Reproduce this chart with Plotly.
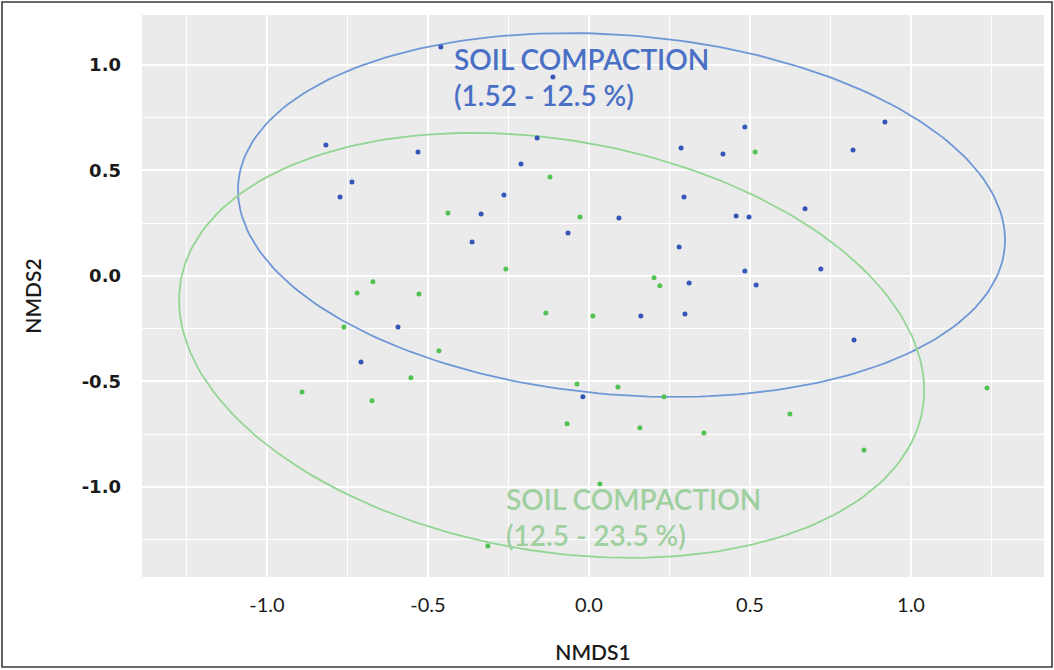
import numpy as np
import plotly.graph_objects as go

# NMDS scores, group 1: soil compaction 1.52 - 12.5 %
low_x = [-0.460, -0.112, -0.817, -0.531, -0.736, -0.773, -0.161, -0.211, -0.264,
         -0.335, -0.363, -0.065, 0.484, 0.286, 0.416, 0.820, 0.919, 0.295, 0.093,
         0.457, 0.497, 0.671, 0.280, 0.484, 0.720, 0.311, 0.519, -0.593, -0.708,
         -0.019, 0.161, 0.298, 0.823]
low_y = [1.085, 0.943, 0.621, 0.588, 0.445, 0.374, 0.654, 0.531, 0.384,
         0.294, 0.161, 0.204, 0.706, 0.607, 0.578, 0.597, 0.730, 0.374, 0.275,
         0.284, 0.280, 0.318, 0.137, 0.024, 0.033, -0.033, -0.043, -0.242, -0.408,
         -0.573, -0.190, -0.180, -0.303]

# NMDS scores, group 2: soil compaction 12.5 - 23.5 %
high_x = [-0.121, -0.438, -0.028, -0.258, -0.671, -0.720, -0.528, 0.516, 0.202,
          0.220, -0.134, -0.761, -0.466, -0.553, -0.891, -0.674, -0.037, -0.068,
          -0.314, 0.012, 0.090, 0.233, 0.158, 0.357, 0.624, 0.854, 1.236, 0.034]
high_y = [0.469, 0.299, 0.280, 0.033, -0.028, -0.081, -0.085, 0.588, -0.009,
          -0.047, -0.175, -0.242, -0.355, -0.483, -0.550, -0.592, -0.512, -0.701,
          -1.280, -0.190, -0.526, -0.573, -0.720, -0.744, -0.654, -0.825, -0.531, -0.986]

# Confidence ellipses: centre and covariance-like shape matrix [[sxx, sxy], [sxy, syy]]
low_center = [0.101, 0.289]
low_shape = [[1.4185, -0.1411], [-0.1411, 0.7440]]
high_center = [-0.116, -0.329]
high_shape = [[1.3383, -0.2467], [-0.2467, 1.0143]]

tick_vals = [-1.0, -0.5, 0.0, 0.5, 1.0]
tick_text = ["-1.0", "-0.5", "0.0", "0.5", "1.0"]

BLUE_PT = "#3556B8"
GREEN_PT = "#52C252"
BLUE_EL = "#6E97D6"
GREEN_EL = "#93D693"


def ellipse_path(center, shape, n=240):
    L = np.linalg.cholesky(np.array(shape))
    t = np.linspace(0, 2 * np.pi, n)
    circ = np.vstack([np.cos(t), np.sin(t)])
    pts = L @ circ
    return pts[0] + center[0], pts[1] + center[1]


fig = go.Figure()

ex, ey = ellipse_path(low_center, low_shape)
fig.add_trace(go.Scatter(x=ex, y=ey, mode="lines",
                         line=dict(color=BLUE_EL, width=1.8), hoverinfo="skip"))
ex, ey = ellipse_path(high_center, high_shape)
fig.add_trace(go.Scatter(x=ex, y=ey, mode="lines",
                         line=dict(color=GREEN_EL, width=1.8), hoverinfo="skip"))

fig.add_trace(go.Scatter(x=low_x, y=low_y, mode="markers",
                         marker=dict(color=BLUE_PT, size=5)))
fig.add_trace(go.Scatter(x=high_x, y=high_y, mode="markers",
                         marker=dict(color=GREEN_PT, size=5)))

fig.add_annotation(x=-0.425, y=1.12, xref="x", yref="y",
                   text="SOIL COMPACTION<br>(1.52 - 12.5 %)",
                   showarrow=False, xanchor="left", yanchor="top", align="left",
                   font=dict(family="Lato", size=28, color="#4A70C6", weight=600))
fig.add_annotation(x=-0.265, y=-0.965, xref="x", yref="y",
                   text="SOIL COMPACTION<br>(12.5 - 23.5 %)",
                   showarrow=False, xanchor="left", yanchor="top", align="left",
                   font=dict(family="Lato", size=28, color="#A0D0A0", weight=600))

# outer frame around the whole figure
W, H = 1054, 670
ml, mr, mt, mb = 142, 10, 15, 93
pw, ph = W - ml - mr, H - mt - mb
fig.add_shape(type="rect", xref="paper", yref="paper",
              x0=(2 - ml) / pw, x1=(W - 2 - ml) / pw,
              y0=(H - mb - (H - 3)) / ph, y1=(H - mb - 2) / ph,
              line=dict(color="#3a3a3a", width=1.6), fillcolor="rgba(0,0,0,0)",
              layer="above")

axis_common = dict(
    showgrid=True, gridcolor="white", gridwidth=1.6,
    zeroline=False, showline=False, ticks="",
    tickvals=tick_vals, ticktext=tick_text,
    minor=dict(dtick=0.25, tick0=0, showgrid=True, gridcolor="white", gridwidth=0.8),
)

fig.update_layout(
    width=W, height=H,
    margin=dict(l=ml, r=mr, t=mt, b=mb, pad=0),
    paper_bgcolor="white", plot_bgcolor="#EBEBEB",
    showlegend=False,
    xaxis=dict(range=[-1.388, 1.413], **axis_common,
               tickfont=dict(family="Lato", size=20, color="#1a1a1a"),
               ticklabelstandoff=14,
               title=dict(text="NMDS1", standoff=30,
                          font=dict(family="Lato", size=21, color="#1a1a1a", weight=600))),
    yaxis=dict(range=[-1.427, 1.237], **axis_common,
               tickfont=dict(family="DejaVu Sans", size=18, color="#1a1a1a", weight="bold"),
               ticklabelstandoff=20,
               title=dict(text="NMDS2", standoff=34,
                          font=dict(family="Lato", size=21, color="#1a1a1a", weight=600))),
)

fig.write_html("out.html")
